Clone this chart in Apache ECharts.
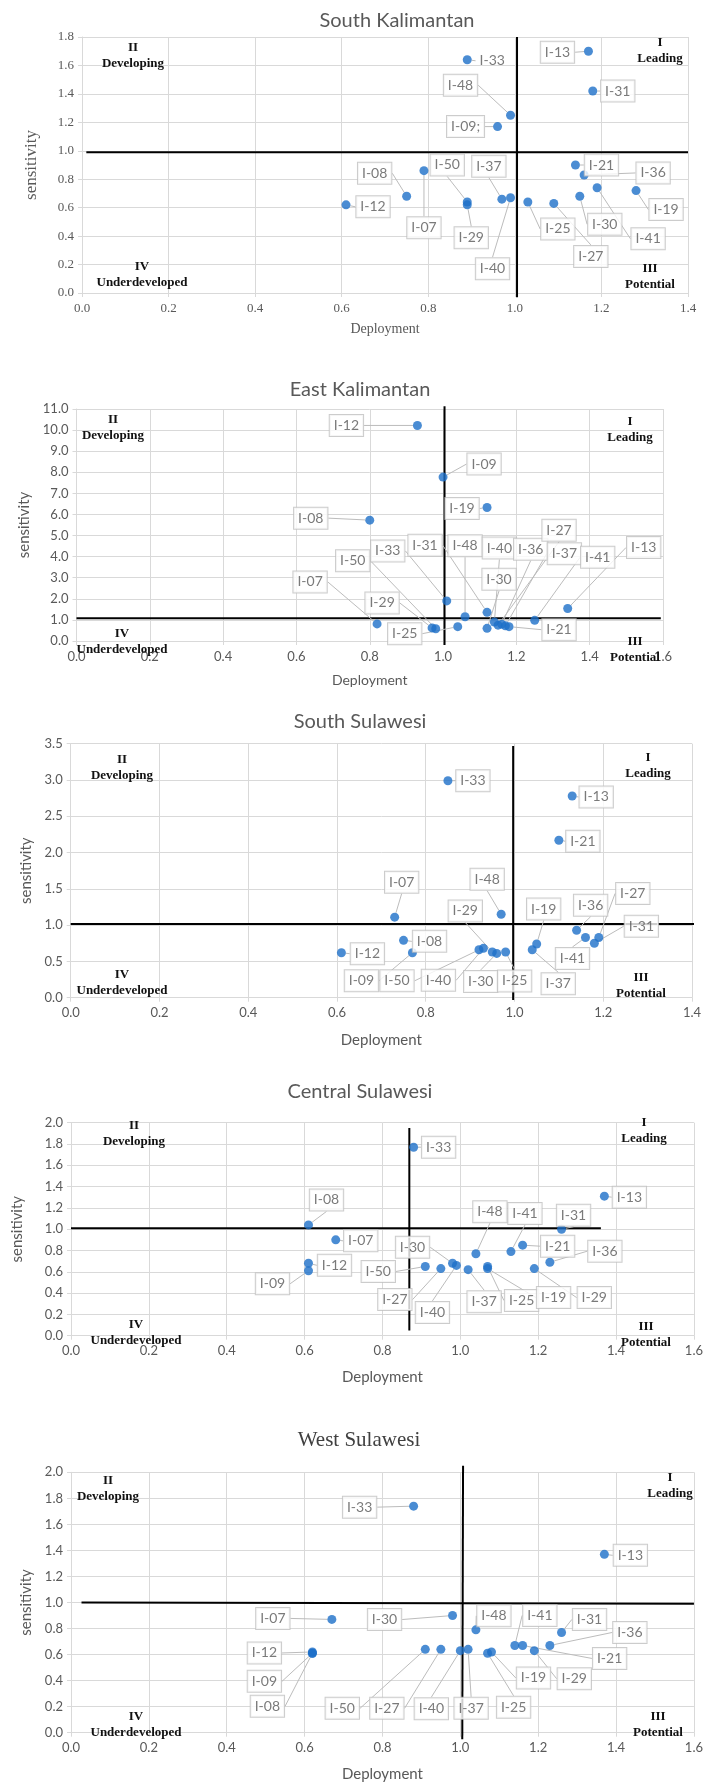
<!DOCTYPE html>
<html>
<head>
<meta charset="utf-8">
<script src="https://cdn.jsdelivr.net/npm/echarts@6/dist/echarts.min.js"></script>
<style>
  html, body { margin: 0; padding: 0; background: #fff; }
  #chart { width: 706px; height: 1785px; }
</style>
</head>
<body>
<div id="chart"></div>
<script>
// ---- South Kalimantan
const names1 = ['I-13', 'I-33', 'I-31', 'I-48', 'I-09;', 'I-21', 'I-36', 'I-08', 'I-12', 'I-07', 'I-50', 'I-37', 'I-29', 'I-40', 'I-25', 'I-27', 'I-30', 'I-41', 'I-19'];
const deploy1 = [1.17, 0.89, 1.18, 0.99, 0.96, 1.14, 1.16, 0.75, 0.61, 0.79, 0.89, 0.97, 0.89, 0.99, 1.03, 1.09, 1.15, 1.19, 1.28];
const sens1 = [1.70, 1.64, 1.42, 1.25, 1.17, 0.90, 0.83, 0.68, 0.62, 0.86, 0.64, 0.66, 0.62, 0.67, 0.64, 0.63, 0.68, 0.74, 0.72];

// ---- East Kalimantan
const names2 = ['I-12', 'I-09', 'I-19', 'I-08', 'I-33', 'I-13', 'I-07', 'I-50', 'I-29', 'I-25', 'I-48', 'I-31', 'I-30', 'I-40', 'I-36', 'I-27', 'I-37', 'I-41', 'I-21'];
const deploy2 = [0.93, 1.00, 1.12, 0.80, 1.01, 1.34, 0.82, 0.98, 0.97, 1.04, 1.06, 1.12, 1.12, 1.14, 1.16, 1.15, 1.17, 1.25, 1.18];
const sens2 = [10.22, 7.77, 6.33, 5.73, 1.90, 1.54, 0.81, 0.58, 0.62, 0.68, 1.15, 1.36, 0.60, 0.90, 0.80, 0.75, 0.72, 0.98, 0.68];

// ---- South Sulawesi
const names3 = ['I-33', 'I-13', 'I-21', 'I-07', 'I-48', 'I-08', 'I-12', 'I-09', 'I-50', 'I-40', 'I-29', 'I-30', 'I-25', 'I-19', 'I-37', 'I-36', 'I-27', 'I-31', 'I-41'];
const deploy3 = [0.85, 1.13, 1.10, 0.73, 0.97, 0.75, 0.61, 0.77, 0.92, 0.93, 0.95, 0.96, 0.98, 1.05, 1.04, 1.14, 1.19, 1.18, 1.16];
const sens3 = [2.99, 2.78, 2.17, 1.11, 1.15, 0.79, 0.62, 0.62, 0.66, 0.68, 0.63, 0.61, 0.63, 0.74, 0.66, 0.93, 0.83, 0.75, 0.83];

// ---- Central Sulawesi
const names4 = ['I-33', 'I-13', 'I-08', 'I-07', 'I-12', 'I-09', 'I-48', 'I-41', 'I-31', 'I-21', 'I-36', 'I-30', 'I-50', 'I-27', 'I-40', 'I-37', 'I-25', 'I-19', 'I-29'];
const deploy4 = [0.88, 1.37, 0.61, 0.68, 0.61, 0.61, 1.04, 1.13, 1.26, 1.16, 1.23, 0.98, 0.91, 0.95, 0.99, 1.02, 1.07, 1.07, 1.19];
const sens4 = [1.77, 1.31, 1.04, 0.90, 0.68, 0.61, 0.77, 0.79, 1.00, 0.85, 0.69, 0.68, 0.65, 0.63, 0.66, 0.62, 0.65, 0.63, 0.63];

// ---- West Sulawesi
const names5 = ['I-33', 'I-13', 'I-07', 'I-30', 'I-48', 'I-41', 'I-31', 'I-36', 'I-21', 'I-29', 'I-19', 'I-25', 'I-12', 'I-09', 'I-08', 'I-50', 'I-27', 'I-40', 'I-37'];
const deploy5 = [0.88, 1.37, 0.67, 0.98, 1.04, 1.14, 1.26, 1.23, 1.16, 1.19, 1.08, 1.07, 0.62, 0.62, 0.62, 0.91, 0.95, 1.00, 1.02];
const sens5 = [1.74, 1.37, 0.87, 0.90, 0.79, 0.67, 0.77, 0.67, 0.67, 0.63, 0.62, 0.61, 0.62, 0.61, 0.61, 0.64, 0.64, 0.63, 0.64];

const titles = ['South Kalimantan', 'East Kalimantan', 'South Sulawesi', 'Central Sulawesi', 'West Sulawesi'];
const quadrantTexts = ['II\nDeveloping', 'I\nLeading', 'IV\nUnderdeveloped', 'III\nPotential'];

// quadrant dividing lines, in data units [x, y]
const vLines = [
  [[1.005, 1.8], [1.005, -0.03]],
  [[1.004, 11.13], [1.004, -0.19]],
  [[0.997, 3.47], [0.997, -0.03]],
  [[0.869, 1.95], [0.869, 0.05]],
  [[1.007, 2.05], [1.005, -0.05]]
];
const hLines = [
  [[0.01, 0.99], [1.4, 0.99]],
  [[0.0, 1.08], [1.594, 1.08]],
  [[0.0, 1.015], [1.406, 1.015]],
  [[0.0, 1.01], [1.361, 1.01]],
  [[0.027, 1.0], [1.6, 0.99]]
];

// callout label offsets (px) from each point, same order as the names
const callout1 = [[-31, 1], [25, 1], [25, 0], [-50, -30], [-32, 0], [26, 0], [69, -2], [-32, -23], [27, 2], [0, 57], [-20, -37], [-13, -33], [4, 33], [-18, 71], [30, 27], [37, 53], [25, 28], [51, 51], [30, 19]];
const callout2 = [[-71, 0], [41, -13], [-25, 1], [-59, -2], [-59, -50], [76, -61], [-67, -42], [-83, -68], [-50, -25], [-53, 7], [0, -71], [-62, -67], [12, -49], [5, -74], [29, -75], [61, -95], [59, -72], [63, -63], [50, 3]];
const callout3 = [[25, 0], [24, 1], [24, 1], [7, -35], [-14, -35], [26, 1], [26, 1], [-51, 28], [-82, 31], [-45, 32], [-27, -41], [-16, 28], [9, 29], [7, -35], [26, 34], [14, -25], [34, -44], [47, -17], [-13, 21]];
const callout4 = [[25, 0], [25, 1], [18, -25], [25, 1], [26, 2], [-36, 13], [14, -42], [14, -38], [12, -14], [35, 1], [55, -11], [-40, -16], [-47, 5], [-46, 31], [-24, 47], [16, 32], [34, 34], [66, 29], [60, 29]];
const callout5 = [[-54, 1], [26, 1], [-59, -1], [-68, 4], [18, -14], [25, -30], [28, -13], [80, -13], [87, 13], [40, 28], [42, 26], [26, 54], [-48, 1], [-48, 28], [-45, 53], [-83, 59], [-54, 59], [-29, 58], [3, 59]];

const SANS = 'Lato, "Open Sans", sans-serif';
const SERIF = '"Liberation Serif", "DejaVu Serif", serif';
const GREY = '#595959';
const GRIDC = '#d9d9d9';
const BLUE = '#1d6fc8';

const panels = [
  { names: names1, x: deploy1, y: sens1, off: callout1, xMax: 1.4, yMax: 1.8, yStep: 0.2,
    grid: { left: 82, top: 37, width: 606, height: 256 }, tickFont: SERIF, tickSize: 13,
    xName: { font: SERIF, size: 14, gap: 29 }, yName: { font: SERIF, size: 17, gap: 42 },
    title: [397, 21, 'normal 20px ' + SANS],
    quads: [[133, 56], [660, 51], [142, 275], [650, 277]], plain: ['I-33'] },
  { names: names2, x: deploy2, y: sens2, off: callout2, xMax: 1.6, yMax: 11, yStep: 1,
    grid: { left: 76.5, top: 409, width: 586.5, height: 232 }, tickFont: SANS, tickSize: 13,
    xName: { font: SANS, size: 14, gap: 32 }, yName: { font: SANS, size: 15, gap: 43 },
    title: [360, 390, 'normal 20px ' + SANS],
    quads: [[113, 428], [630, 430], [122, 642], [635, 650]], plain: [] },
  { names: names3, x: deploy3, y: sens3, off: callout3, xMax: 1.4, yMax: 3.5, yStep: 0.5,
    grid: { left: 70.7, top: 743.7, width: 621.3, height: 254 }, tickFont: SANS, tickSize: 13,
    xName: { font: SANS, size: 15, gap: 35 }, yName: { font: SANS, size: 15, gap: 37 },
    title: [360, 722, 'normal 20px ' + SANS],
    quads: [[122, 768], [648, 766], [122, 983], [641, 986]], plain: [] },
  { names: names4, x: deploy4, y: sens4, off: callout4, xMax: 1.6, yMax: 2, yStep: 0.2,
    grid: { left: 71, top: 1122.7, width: 624.6, height: 213 }, tickFont: SANS, tickSize: 13,
    xName: { font: SANS, size: 15, gap: 34 }, yName: { font: SANS, size: 15, gap: 46 },
    title: [360, 1092, 'normal 20px ' + SANS],
    quads: [[134, 1134], [644, 1131], [136, 1333], [646, 1335]], plain: [] },
  { names: names5, x: deploy5, y: sens5, off: callout5, xMax: 1.6, yMax: 2, yStep: 0.2,
    grid: { left: 71, top: 1472.3, width: 624, height: 260.4 }, tickFont: SANS, tickSize: 13,
    xName: { font: SANS, size: 15, gap: 34 }, yName: { font: SANS, size: 15, gap: 37 },
    title: [359, 1440, 'normal 21px ' + SERIF],
    quads: [[108, 1489], [670, 1486], [136, 1725], [658, 1725]], plain: [] }
];

const grid = [], xAxis = [], yAxis = [], series = [], graphic = [];

panels.forEach(function (p, i) {
  grid.push(Object.assign({ containLabel: false }, p.grid));
  xAxis.push({
    gridIndex: i, type: 'value', min: 0, max: p.xMax, interval: 0.2,
    axisLine: { show: true, onZero: false, lineStyle: { color: GRIDC } },
    axisTick: { show: true, length: 4, lineStyle: { color: GRIDC } },
    splitLine: { show: true, lineStyle: { color: GRIDC, width: 1 } },
    axisLabel: { formatter: function (v) { return v.toFixed(1); }, fontFamily: p.tickFont, fontSize: p.tickSize, color: GREY, margin: 9 },
    name: 'Deployment', nameLocation: 'middle', nameGap: p.xName.gap,
    nameTextStyle: { fontFamily: p.xName.font, fontSize: p.xName.size, color: GREY }
  });
  yAxis.push({
    gridIndex: i, type: 'value', min: 0, max: p.yMax, interval: p.yStep,
    axisLine: { show: true, onZero: false, lineStyle: { color: GRIDC } },
    axisTick: { show: true, length: 4, lineStyle: { color: GRIDC } },
    splitLine: { show: true, lineStyle: { color: GRIDC, width: 1 } },
    axisLabel: { formatter: function (v) { return v.toFixed(1); }, fontFamily: p.tickFont, fontSize: p.tickSize, color: GREY, margin: 8 },
    name: 'sensitivity', nameLocation: 'middle', nameGap: p.yName.gap,
    nameTextStyle: { fontFamily: p.yName.font, fontSize: p.yName.size, color: GREY }
  });

  [vLines[i], hLines[i]].forEach(function (seg) {
    series.push({
      type: 'line', xAxisIndex: i, yAxisIndex: i, data: seg, symbol: 'none',
      clip: false, silent: true, z: 2, animation: false,
      lineStyle: { color: '#000', width: 2 }
    });
  });

  series.push({
    type: 'scatter', xAxisIndex: i, yAxisIndex: i, z: 3,
    symbolSize: 9, itemStyle: { color: BLUE },
    data: p.names.map(function (n, k) {
      const item = { name: n, value: [p.x[k], p.y[k]] };
      if (p.plain.indexOf(n) >= 0) {
        item.label = { borderWidth: 0, backgroundColor: 'transparent' };
      }
      return item;
    }),
    label: {
      show: true, position: 'inside', formatter: '{b}',
      fontFamily: SANS, fontSize: 14, color: GREY,
      backgroundColor: '#fff', borderColor: '#bfbfbf', borderWidth: 1,
      padding: [4, 4, 3, 4]
    },
    labelLine: { show: true, lineStyle: { color: '#bcbcbc', width: 1 } },
    labelLayout: function (prm) {
      const o = p.off[prm.dataIndex];
      return { dx: o[0], dy: o[1], hideOverlap: false };
    },
    emphasis: { disabled: true }
  });

  graphic.push({
    type: 'text', x: p.title[0], y: p.title[1], z: 10,
    style: { text: titles[i], font: p.title[2], fill: i === 4 ? '#404040' : GREY,
      align: 'center', verticalAlign: 'middle', textAlign: 'center', textVerticalAlign: 'middle' }
  });
  p.quads.forEach(function (q, k) {
    graphic.push({
      type: 'text', x: q[0], y: q[1], z: 10,
      style: { text: quadrantTexts[k], font: 'bold 13px ' + SERIF, fill: '#111', lineHeight: 16,
        align: 'center', verticalAlign: 'middle', textAlign: 'center', textVerticalAlign: 'middle' }
    });
  });
});

const chart = echarts.init(document.getElementById('chart'), null, { renderer: 'canvas' });
chart.setOption({
  animation: false,
  backgroundColor: '#fff',
  grid: grid,
  xAxis: xAxis,
  yAxis: yAxis,
  series: series,
  graphic: graphic
});
</script>
</body>
</html>
